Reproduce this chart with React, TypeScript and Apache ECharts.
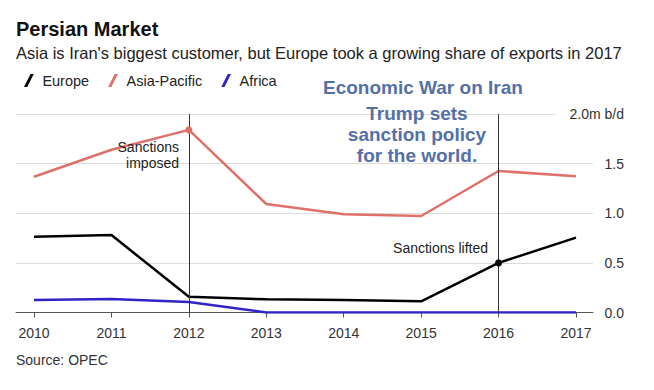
import React, { useEffect, useRef } from "react";
import * as echarts from "echarts";

const years = ["2010", "2011", "2012", "2013", "2014", "2015", "2016", "2017"];
const europe = [0.764, 0.78, 0.159, 0.133, 0.126, 0.113, 0.5, 0.754];
const asiaPacific = [1.368, 1.64, 1.84, 1.093, 0.99, 0.972, 1.426, 1.372];
const africa = [0.125, 0.137, 0.106, 0, 0, 0, 0, 0];
const yTicks = [0, 0.5, 1, 1.5, 2];

const FONT = "'Liberation Sans', Arial, Helvetica, sans-serif";
const ICON = "path://M0,10L5,0L7.5,0L2.5,10Z";

export default function App() {
  const ref = useRef<HTMLDivElement>(null);
  useEffect(() => {
    if (!ref.current) return;
    const chart = echarts.init(ref.current, undefined, { renderer: "svg" });
    const option: any = {
      animation: false,
      backgroundColor: "#fff",
      textStyle: { fontFamily: FONT },
      title: [
        {
          text: "Persian Market",
          left: 16,
          top: 19,
          padding: 0,
          textStyle: { fontSize: 20, fontWeight: "bold", color: "#111", lineHeight: 20, fontFamily: FONT },
        },
        {
          text: "Asia is Iran's biggest customer, but Europe took a growing share of exports in 2017",
          left: 16,
          top: 44,
          padding: 0,
          textStyle: { fontSize: 16.5, fontWeight: "normal", color: "#222", lineHeight: 17, fontFamily: FONT },
        },
      ],
      legend: {
        left: 24,
        top: 73,
        padding: 0,
        itemGap: 19,
        itemWidth: 11,
        itemHeight: 13,
        icon: ICON,
        data: ["Europe", "Asia-Pacific", "Africa"],
        textStyle: { fontSize: 14.5, color: "#222", padding: [0, 0, 0, 3], fontFamily: FONT },
      },
      grid: [
        { left: 16, right: 61, top: 114, bottom: 77.5 },
        { left: 34, right: 78, top: 114, bottom: 77.5 },
      ],
      xAxis: [
        {
          gridIndex: 0,
          type: "value",
          min: 0,
          max: 1,
          axisLine: { show: true, lineStyle: { color: "#555", width: 1 } },
          axisTick: { show: false },
          axisLabel: { show: false },
          splitLine: { show: false },
        },
        {
          gridIndex: 1,
          type: "category",
          data: years,
          boundaryGap: false,
          axisLine: { show: false },
          axisTick: { show: true, length: 5, lineStyle: { color: "#555" } },
          axisLabel: { fontSize: 14, color: "#333", margin: 13, fontFamily: FONT },
          splitLine: { show: false },
        },
      ],
      yAxis: [
        {
          gridIndex: 0,
          type: "value",
          position: "right",
          min: 0,
          max: 2,
          interval: 0.5,
          axisLine: { show: false },
          axisTick: { show: false },
          splitLine: { show: true, lineStyle: { color: "#dcdcdc", width: 1 } },
          axisLabel: {
            margin: 31,
            align: "right",
            fontSize: 14,
            color: "#333",
            fontFamily: FONT,
            formatter: (v: number) => (v === yTicks[4] ? "{t|2.0m b/d}" : v.toFixed(1)),
            rich: {
              t: {
                fontSize: 14,
                color: "#333",
                fontFamily: FONT,
                backgroundColor: "#fff",
                padding: [3, 0, 3, 14],
              },
            },
          },
        },
        {
          gridIndex: 1,
          type: "value",
          min: 0,
          max: 2,
          show: false,
        },
      ],
      series: [
        {
          name: "Europe",
          type: "line",
          xAxisIndex: 1,
          yAxisIndex: 1,
          data: europe,
          symbol: "none",
          color: "#000",
          lineStyle: { color: "#000", width: 2.5 },
          itemStyle: { color: "#000" },
          z: 4,
          markLine: {
            silent: true,
            symbol: ["none", "none"],
            label: { show: false },
            lineStyle: { color: "#333", width: 1, type: "solid" },
            data: [{ xAxis: "2012" }, { xAxis: "2016" }],
          },
          markPoint: {
            symbol: "circle",
            symbolSize: 7,
            label: { show: false },
            itemStyle: { color: "#000" },
            data: [{ coord: ["2016", europe[6]] }],
          },
        },
        {
          name: "Asia-Pacific",
          type: "line",
          xAxisIndex: 1,
          yAxisIndex: 1,
          data: asiaPacific,
          symbol: "none",
          color: "#e0706a",
          lineStyle: { color: "#e0706a", width: 2.5 },
          itemStyle: { color: "#e0706a" },
          z: 3,
          markPoint: {
            symbol: "circle",
            symbolSize: 7,
            label: { show: false },
            itemStyle: { color: "#e0706a" },
            data: [{ coord: ["2012", asiaPacific[2]] }],
          },
        },
        {
          name: "Africa",
          type: "line",
          xAxisIndex: 1,
          yAxisIndex: 1,
          data: africa,
          symbol: "none",
          color: "#2f24c8",
          lineStyle: { color: "#2f24c8", width: 2.5 },
          itemStyle: { color: "#2f24c8" },
          z: 3,
        },
      ],
      graphic: [
        {
          type: "text",
          x: 179,
          y: 155,
          style: {
            text: "Sanctions\nimposed",
            textAlign: "right",
            textVerticalAlign: "middle",
            fontSize: 14,
            lineHeight: 16,
            fill: "#222",
            fontFamily: FONT,
          },
          z: 10,
        },
        {
          type: "text",
          x: 488,
          y: 248,
          style: {
            text: "Sanctions lifted",
            textAlign: "right",
            textVerticalAlign: "middle",
            fontSize: 14,
            fill: "#222",
            fontFamily: FONT,
          },
          z: 10,
        },
        {
          type: "text",
          x: 323,
          y: 87,
          style: {
            text: "Economic War on Iran",
            textAlign: "left",
            textVerticalAlign: "middle",
            fontSize: 19,
            fontWeight: "bold",
            fill: "#5470a5",
            fontFamily: FONT,
          },
          z: 10,
        },
        {
          type: "text",
          x: 417,
          y: 134,
          style: {
            text: "Trump sets\nsanction policy\nfor the world.",
            textAlign: "center",
            textVerticalAlign: "middle",
            fontSize: 19,
            lineHeight: 21,
            fontWeight: "bold",
            fill: "#5470a5",
            fontFamily: FONT,
          },
          z: 10,
        },
        {
          type: "text",
          x: 16,
          y: 360,
          style: {
            text: "Source: OPEC",
            textAlign: "left",
            textVerticalAlign: "middle",
            fontSize: 14,
            fill: "#333",
            fontFamily: FONT,
          },
          z: 10,
        },
      ],
    };
    chart.setOption(option);
    return () => chart.dispose();
  }, []);
  return (
    <div
      ref={ref}
      style={{ position: "absolute", left: 0, top: 0, width: 654, height: 390, background: "#fff" }}
    />
  );
}
